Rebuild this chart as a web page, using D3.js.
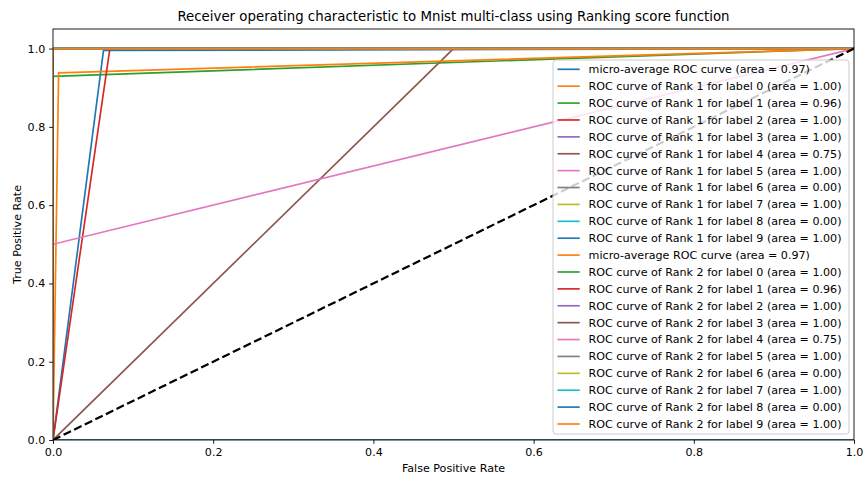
<!DOCTYPE html>
<html lang="en">
<head>
  <meta charset="UTF-8">
  <title>ROC curves</title>
  <style>
    body, html { margin: 0; padding: 0; background: #fff; }
    svg { display: block; font-family: "DejaVu Sans", sans-serif; }
  </style>
</head>
<body>
  <svg id="svg" width="864" height="478"></svg>

  <script src="https://cdn.jsdelivr.net/npm/d3@7"></script>
  <script>
    // curve labels, in plotting order (Rank 1 then Rank 2)
    const labels = [
      'micro-average ROC curve (area = 0.97)',
      'ROC curve of Rank 1 for label 0 (area = 1.00)',
      'ROC curve of Rank 1 for label 1 (area = 0.96)',
      'ROC curve of Rank 1 for label 2 (area = 1.00)',
      'ROC curve of Rank 1 for label 3 (area = 1.00)',
      'ROC curve of Rank 1 for label 4 (area = 0.75)',
      'ROC curve of Rank 1 for label 5 (area = 1.00)',
      'ROC curve of Rank 1 for label 6 (area = 0.00)',
      'ROC curve of Rank 1 for label 7 (area = 1.00)',
      'ROC curve of Rank 1 for label 8 (area = 0.00)',
      'ROC curve of Rank 1 for label 9 (area = 1.00)',
      'micro-average ROC curve (area = 0.97)',
      'ROC curve of Rank 2 for label 0 (area = 1.00)',
      'ROC curve of Rank 2 for label 1 (area = 0.96)',
      'ROC curve of Rank 2 for label 2 (area = 1.00)',
      'ROC curve of Rank 2 for label 3 (area = 1.00)',
      'ROC curve of Rank 2 for label 4 (area = 0.75)',
      'ROC curve of Rank 2 for label 5 (area = 1.00)',
      'ROC curve of Rank 2 for label 6 (area = 0.00)',
      'ROC curve of Rank 2 for label 7 (area = 1.00)',
      'ROC curve of Rank 2 for label 8 (area = 0.00)',
      'ROC curve of Rank 2 for label 9 (area = 1.00)'
    ];

    // false positive rates per curve
    const fprs = [
      [0, 0.063, 1], [0, 0, 1], [0, 0, 1], [0, 0, 1], [0, 0, 1], [0, 0.5, 1],
      [0, 0, 1], [0, 1], [0, 0, 1], [0, 1], [0, 0, 1],
      [0, 0.007, 1], [0, 0, 1], [0, 0.071, 1], [0, 0, 1], [0, 0, 1], [0, 0, 1],
      [0, 0, 1], [0, 1], [0, 0, 1], [0, 1], [0, 0, 1]
    ];

    // true positive rates per curve
    const tprs = [
      [0, 0.995, 1], [0, 1, 1], [0, 0.929, 1], [0, 1, 1], [0, 1, 1], [0, 1, 1],
      [0, 1, 1], [0, 0], [0, 1, 1], [0, 0], [0, 1, 1],
      [0, 0.938, 1], [0, 1, 1], [0, 1, 1], [0, 1, 1], [0, 1, 1], [0, 0.5, 1],
      [0, 1, 1], [0, 0], [0, 1, 1], [0, 0], [0, 1, 1]
    ];

    const xTicks = [0, 0.2, 0.4, 0.6, 0.8, 1.0];
    const yTicks = [0, 0.2, 0.4, 0.6, 0.8, 1.0];

    const colors = ['#1f77b4', '#ff7f0e', '#2ca02c', '#d62728', '#9467bd',
                    '#8c564b', '#e377c2', '#7f7f7f', '#bcbd22', '#17becf'];

    const pt = 80 / 72;   // points to pixels
    const fs = 10 * pt;   // base font size
    const pL = 53, pR = 854, pT = 29, pB = 440;
    const svg = d3.select('#svg');

    const x = d3.scaleLinear().domain([0, 1]).range([pL, pR]);
    const y = d3.scaleLinear().domain([0, 1.05]).range([pB, pT]);

    svg.append('defs').append('clipPath').attr('id', 'clip')
      .append('rect')
      .attr('x', pL).attr('y', pT)
      .attr('width', pR - pL).attr('height', pB - pT);

    const plot = svg.append('g').attr('clip-path', 'url(#clip)');

    const line = d3.line().x(d => x(d[0])).y(d => y(d[1]));

    labels.forEach((lab, i) => {
      const pts = fprs[i].map((f, j) => [f, tprs[i][j]]);
      plot.append('path')
        .attr('d', line(pts))
        .attr('fill', 'none')
        .attr('stroke', colors[i % 10])
        .attr('stroke-width', 1.5 * pt)
        .attr('stroke-linejoin', 'round');
    });

    // chance diagonal
    plot.append('path')
      .attr('d', line([[0, 0], [1, 1]]))
      .attr('fill', 'none')
      .attr('stroke', '#000')
      .attr('stroke-width', 2 * pt)
      .attr('stroke-dasharray', `${7.4 * pt},${3.2 * pt}`);

    // axes
    const xAxis = svg.append('g')
      .attr('transform', `translate(0,${pB})`)
      .call(d3.axisBottom(x).tickValues(xTicks).tickFormat(d3.format('.1f'))
        .tickSize(3.5 * pt).tickPadding(3.5 * pt).tickSizeOuter(0));
    const yAxis = svg.append('g')
      .attr('transform', `translate(${pL},0)`)
      .call(d3.axisLeft(y).tickValues(yTicks).tickFormat(d3.format('.1f'))
        .tickSize(3.5 * pt).tickPadding(3.5 * pt).tickSizeOuter(0));
    [xAxis, yAxis].forEach(a => {
      a.select('.domain').remove();
      a.selectAll('text').attr('font-size', fs).attr('fill', '#000')
        .attr('font-family', '"DejaVu Sans", sans-serif');
      a.selectAll('line').attr('stroke', '#000').attr('stroke-width', 0.8 * pt);
    });

    // frame
    svg.append('rect')
      .attr('x', pL).attr('y', pT)
      .attr('width', pR - pL).attr('height', pB - pT)
      .attr('fill', 'none').attr('stroke', '#000').attr('stroke-width', 0.8 * pt);

    svg.append('text')
      .attr('x', (pL + pR) / 2).attr('y', 21)
      .attr('text-anchor', 'middle').attr('font-size', 12 * pt)
      .text('Receiver operating characteristic to Mnist multi-class using Ranking score function');

    svg.append('text')
      .attr('x', (pL + pR) / 2).attr('y', 472)
      .attr('text-anchor', 'middle').attr('font-size', fs)
      .text('False Positive Rate');

    svg.append('text')
      .attr('transform', `translate(21,${(pT + pB) / 2}) rotate(-90)`)
      .attr('text-anchor', 'middle').attr('font-size', fs)
      .text('True Positive Rate');

    // legend
    const lg = svg.append('g');
    lg.append('rect')
      .attr('x', 553).attr('y', 60).attr('width', 296).attr('height', 374)
      .attr('rx', 3)
      .attr('fill', '#fff').attr('fill-opacity', 0.8)
      .attr('stroke', '#ccc').attr('stroke-width', 1);
    const rowY = d3.scaleLinear().domain([0, labels.length - 1]).range([69.3, 424]);
    labels.forEach((lab, i) => {
      const cy = rowY(i);
      lg.append('line')
        .attr('x1', 557.5).attr('x2', 557.5 + 2 * fs).attr('y1', cy).attr('y2', cy)
        .attr('stroke', colors[i % 10]).attr('stroke-width', 1.5 * pt);
      lg.append('text')
        .attr('x', 557.5 + 2.8 * fs).attr('y', cy).attr('dy', '0.35em')
        .attr('font-size', fs).attr('fill', '#000')
        .text(lab);
    });
  </script>
</body>
</html>
